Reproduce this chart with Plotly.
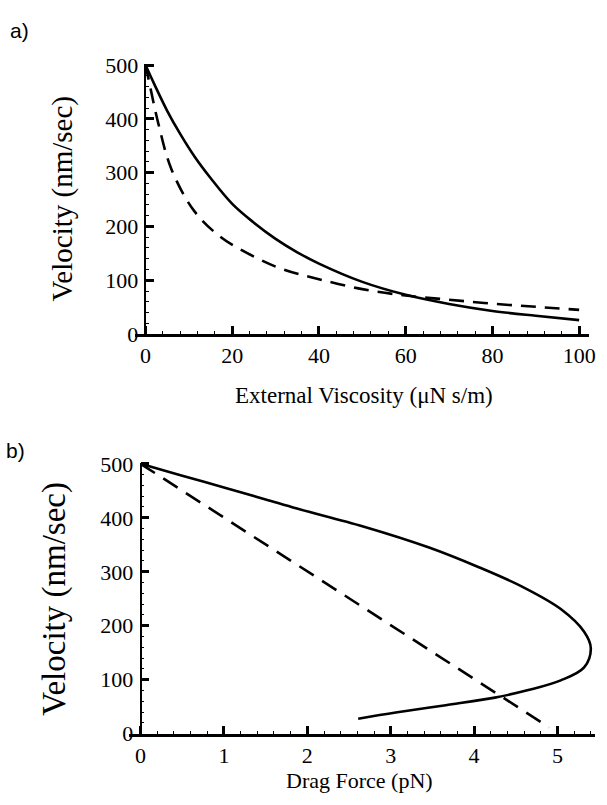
import plotly.graph_objects as go

# ---------------- data ----------------
# Panel a) velocity vs external viscosity
visc_solid = [0, 2, 5, 8, 11.3, 15, 20, 25, 30, 35, 40, 50, 60, 70, 80, 90, 100]
vel_solid = [500, 465, 415, 372, 330, 290, 242, 207, 177, 152, 131, 97, 73, 56, 43, 34, 26]
visc_dash = [0, 0.7, 3, 6, 11.3, 17.4, 25, 31.8, 40.2, 50, 59.9, 69.8, 80, 90.3, 100]
vel_dash = [500, 474, 390, 306, 228, 180, 144, 120, 101.6, 83.5, 71.6, 64, 56.5, 50.5, 45]

# Panel b) velocity vs drag force
force_solid = [0, 0.5, 1.0, 1.5, 1.876, 2.67, 3.46, 4.05, 4.57, 5.04, 5.32, 5.40, 5.32, 5.04, 4.65, 4.25, 3.66, 3.06, 2.61]
velb_solid = [500, 478, 456, 434, 417, 384, 345, 309, 273, 231, 189, 159, 123, 99, 81, 67, 53, 39.5, 28]
force_dash = [0, 4.9]
velb_dash = [500, 12]

xa_ticks = [0, 20, 40, 60, 80, 100]
xb_ticks = [0, 1, 2, 3, 4, 5]
y_ticks = [0, 100, 200, 300, 400, 500]

# ---------------- layout geometry ----------------
W, H = 607, 805
SERIF = "Liberation Serif"
SANS = "Liberation Sans"

def fx(px):
    return px / W

def fy(py):
    return 1 - py / H

xa_range = [-2.5, 102.3]
ya_range = [0, 502]
xb_range = [-0.14, 5.45]
yb_range = [0, 502]

xa_dom = [fx(136), fx(595)]
ya_dom = [fy(333), fy(54.6)]
xb_dom = [fx(130.2), fx(600.9)]
yb_dom = [fy(745), fy(465.6)]

def zero_pos(dom, rng):
    return dom[0] + (0 - rng[0]) / (rng[1] - rng[0]) * (dom[1] - dom[0])

fig = go.Figure()

line_solid = dict(color="black", width=2.6, shape="spline", smoothing=1.0)
line_dash = dict(color="black", width=2.6, dash="15px,9px", shape="spline", smoothing=1.0)

fig.add_trace(go.Scatter(x=visc_solid, y=vel_solid, mode="lines", line=line_solid,
                         xaxis="x", yaxis="y", showlegend=False, cliponaxis=False))
fig.add_trace(go.Scatter(x=visc_dash, y=vel_dash, mode="lines", line=line_dash,
                         xaxis="x", yaxis="y", showlegend=False, cliponaxis=False))
fig.add_trace(go.Scatter(x=force_solid, y=velb_solid, mode="lines", line=line_solid,
                         xaxis="x2", yaxis="y2", showlegend=False, cliponaxis=False))
fig.add_trace(go.Scatter(x=force_dash, y=velb_dash, mode="lines",
                         line=dict(color="black", width=2.6, dash="17px,10px"),
                         xaxis="x2", yaxis="y2", showlegend=False, cliponaxis=False))

tickfont = dict(family=SERIF, size=22, color="black")

def xaxis_cfg(dom, rng, ticks, minor_dt, anchor, lw):
    return dict(domain=dom, range=rng, anchor=anchor, showgrid=False, zeroline=False,
                showline=True, linecolor="black", linewidth=lw,
                tickmode="array", tickvals=ticks, ticktext=[str(t) for t in ticks],
                ticks="inside", ticklen=8, tickwidth=2.5, tickcolor="black",
                minor=dict(ticks="inside", ticklen=3, tickwidth=1, tickcolor="black",
                           dtick=minor_dt, tick0=0, showgrid=False),
                tickfont=tickfont, fixedrange=True)

def yaxis_cfg(dom, rng, pos, minor_dt, lw):
    return dict(domain=dom, range=rng, anchor="free", position=pos, showgrid=False,
                zeroline=False, showline=True, linecolor="black", linewidth=lw,
                tickmode="array", tickvals=y_ticks, ticktext=[str(t) for t in y_ticks],
                ticks="inside", ticklen=8, tickwidth=2.5, tickcolor="black",
                minor=dict(ticks="inside", ticklen=3, tickwidth=1, tickcolor="black",
                           dtick=minor_dt, tick0=0, showgrid=False),
                tickfont=tickfont, ticklabelstandoff=2, fixedrange=True)

fig.update_layout(
    width=W, height=H,
    margin=dict(l=0, r=0, t=0, b=0),
    paper_bgcolor="white", plot_bgcolor="white",
    xaxis=xaxis_cfg(xa_dom, xa_range, xa_ticks, 4, "y", 2.5),
    yaxis=yaxis_cfg(ya_dom, ya_range, zero_pos(xa_dom, xa_range), 20, 1.5),
    xaxis2=xaxis_cfg(xb_dom, xb_range, xb_ticks, 0.2, "y2", 2.5),
    yaxis2=yaxis_cfg(yb_dom, yb_range, zero_pos(xb_dom, xb_range), 20, 1.8),
)

ann = [
    dict(text="a)", x=fx(20), y=fy(20), font=dict(family=SANS, size=21, color="black")),
    dict(text="b)", x=fx(16), y=fy(453), font=dict(family=SANS, size=21, color="black")),
    dict(text="Velocity (nm/sec)", x=fx(63), y=sum(ya_dom) / 2, textangle=-90,
         font=dict(family=SERIF, size=29, color="black")),
    dict(text="Velocity (nm/sec)", x=fx(55), y=sum(yb_dom) / 2, textangle=-90,
         font=dict(family=SERIF, size=33, color="black")),
    dict(text="External Viscosity (\u03bcN s/m)", x=fx(368), y=fy(396),
         font=dict(family=SERIF, size=23, color="black")),
    dict(text="Drag Force (pN)", x=fx(363), y=fy(793),
         font=dict(family=SERIF, size=22, color="black")),
]
for a in ann:
    a.update(xref="paper", yref="paper", showarrow=False, xanchor="center", yanchor="middle")
fig.update_layout(annotations=ann)

fig.write_html("out.html", config={"displayModeBar": False},
               post_script="document.body.style.margin='0';document.body.style.overflow='hidden';")
